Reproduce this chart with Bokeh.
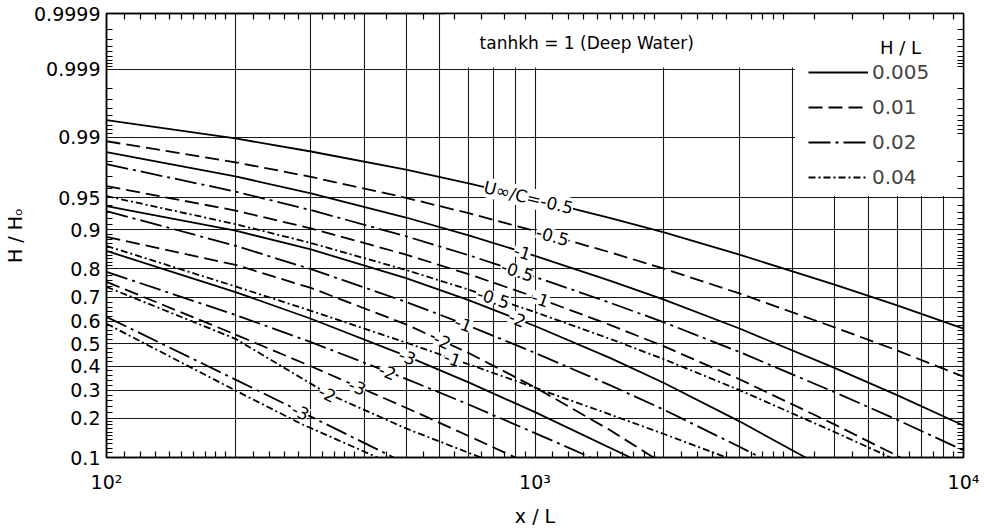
from statistics import NormalDist

from bokeh.embed import file_html
from bokeh.models import (BoxAnnotation, FixedTicker, Label, Legend, LegendItem,
                          LinearAxis, LogAxis, Range1d)
from bokeh.plotting import figure
from bokeh.resources import INLINE

# ---------------------------------------------------------------------------
# Wave height decay in an opposing current, deep water (tanh kh = 1)
# x/L on a log axis, H/Ho on a normal-probability axis
# ---------------------------------------------------------------------------

x_tick_values = [100, 1000, 10000]
x_tick_labels = ["10²", "10³", "10⁴"]
y_tick_values = [0.1, 0.2, 0.3, 0.4, 0.5, 0.6, 0.7, 0.8, 0.9, 0.95, 0.99, 0.999, 0.9999]
y_tick_labels = ["0.1", "0.2", "0.3", "0.4", "0.5", "0.6", "0.7", "0.8", "0.9",
                 "0.95", "0.99", "0.999", "0.9999"]

steepness = ["0.005", "0.01", "0.02", "0.04"]          # H/L
current_ratio = ["-0.5", "-1", "-2", "-3"]             # U∞/C

# H/L = 0.005
x_005_a = [100, 200, 300, 500, 700, 1000, 1500, 2000, 3000, 5000, 7000, 10000]
h_005_a = [0.9941, 0.9896, 0.9848, 0.9750, 0.9645, 0.9484, 0.9215, 0.8949, 0.8423,
           0.7470, 0.6668, 0.5671]                                   # U/C = -0.5
x_005_b = [100, 200, 300, 500, 700, 1000, 1500, 2000, 3000, 5000, 7000, 10000]
h_005_b = [0.9845, 0.9702, 0.9549, 0.9224, 0.8888, 0.8387, 0.7605, 0.6900, 0.5679,
           0.3928, 0.2814, 0.1785]                                   # U/C = -1
x_005_c = [100, 200, 300, 500, 700, 1000, 1500, 2000, 3000, 4280]
h_005_c = [0.9395, 0.8985, 0.8559, 0.7698, 0.6883, 0.5789, 0.4353, 0.3293, 0.1910,
           0.100]                                                    # U/C = -2
x_005_d = [100, 200, 300, 500, 700, 1000, 1670]
h_005_d = [0.8520, 0.7197, 0.6106, 0.4455, 0.3318, 0.2204, 0.100]   # U/C = -3

# H/L = 0.01
x_01_a = [100, 200, 300, 500, 700, 1000, 1500, 2000, 3000, 5000, 7000, 10000]
h_01_a = [0.9887, 0.9795, 0.9699, 0.9498, 0.9292, 0.8979, 0.8480, 0.8009, 0.7143,
          0.5734, 0.4697, 0.3553]
x_01_b = [100, 200, 300, 500, 700, 1000, 1500, 2000, 3000, 5000, 7130]
h_01_b = [0.9621, 0.9331, 0.9030, 0.8423, 0.7832, 0.7005, 0.5832, 0.4880, 0.3446,
          0.1817, 0.100]
x_01_c = [100, 200, 300, 500, 700, 1000, 1500, 1890]
h_01_c = [0.8853, 0.8127, 0.7350, 0.5863, 0.4584, 0.3117, 0.1645, 0.100]
x_01_d = [100, 200, 300, 500, 700, 900]
h_01_d = [0.7571, 0.5411, 0.3997, 0.2354, 0.1494, 0.100]

# H/L = 0.02
x_02_a = [100, 200, 300, 500, 700, 1000, 1500, 2000, 3000, 5000, 7000, 10000]
h_02_a = [0.9784, 0.9567, 0.9338, 0.8869, 0.8406, 0.7742, 0.6772, 0.5950, 0.4629,
          0.2925, 0.1960, 0.1147]
x_02_b = [100, 200, 300, 500, 700, 1000, 1500, 2000, 3000, 3360]
h_02_b = [0.9324, 0.8650, 0.7995, 0.6812, 0.5801, 0.4590, 0.3193, 0.2285, 0.1229,
          0.100]
x_02_c = [100, 200, 300, 500, 700, 1000, 1350]
h_02_c = [0.7907, 0.6269, 0.5072, 0.3461, 0.2469, 0.1570, 0.100]
x_02_d = [100, 200, 284, 468]
h_02_d = [0.619, 0.343, 0.222, 0.100]

# H/L = 0.04
x_04_a = [100, 200, 300, 500, 700, 1000, 1500, 2000, 3000, 5000, 6760]
h_04_a = [0.9518, 0.9110, 0.8716, 0.7968, 0.7287, 0.6391, 0.5211, 0.4305, 0.3007,
          0.1601, 0.100]
x_04_b = [100, 200, 300, 500, 700, 1000, 1500, 2000, 2800]
h_04_b = [0.8645, 0.7405, 0.6446, 0.5049, 0.4085, 0.3101, 0.2122, 0.1546, 0.100]
x_04_c = [100, 200, 328, 500, 747]
h_04_c = [0.739, 0.522, 0.287, 0.170, 0.100]
x_04_d = [100, 200, 284, 429]
h_04_d = [0.589, 0.299, 0.184, 0.100]

curves = {
    "0.005": [(x_005_a, h_005_a), (x_005_b, h_005_b), (x_005_c, h_005_c), (x_005_d, h_005_d)],
    "0.01": [(x_01_a, h_01_a), (x_01_b, h_01_b), (x_01_c, h_01_c), (x_01_d, h_01_d)],
    "0.02": [(x_02_a, h_02_a), (x_02_b, h_02_b), (x_02_c, h_02_c), (x_02_d, h_02_d)],
    "0.04": [(x_04_a, h_04_a), (x_04_b, h_04_b), (x_04_c, h_04_c), (x_04_d, h_04_d)],
}

# curve labels: text, x/L, H/Ho, rotation (rad)
curve_labels = [
    ("U∞/C=-0.5", 966, 0.950, -0.24),
    ("-0.5", 1099, 0.8882, -0.27),
    ("-1", 935, 0.849, -0.30),
    ("-0.5", 910, 0.794, -0.32),
    ("-1", 1030, 0.6935, -0.34),
    ("-0.5", 800, 0.6974, -0.32),
    ("-2", 910, 0.6106, -0.38),
    ("-1", 681, 0.589, -0.37),
    ("-2", 608, 0.5135, -0.43),
    ("-3", 504, 0.442, -0.39),
    ("-1", 642, 0.433, -0.33),
    ("-2", 453, 0.3765, -0.38),
    ("-3", 385, 0.3145, -0.41),
    ("-2", 328, 0.287, -0.45),
    ("-3", 284, 0.2224, -0.45),
]

dash_styles = {"0.005": "solid", "0.01": "14 6", "0.02": "22 5 3 5", "0.04": "7 3 2 3"}

FONT = "DejaVu Sans"
_nd = NormalDist()


def probit(v):
    return _nd.inv_cdf(v)


p = figure(width=984, height=529, x_axis_type="log",
           x_range=Range1d(100, 10000),
           y_range=Range1d(probit(0.1), probit(0.9999)),
           output_backend="svg", toolbar_location=None,
           min_border_left=106, min_border_right=21,
           min_border_top=13, min_border_bottom=70)
p.outline_line_color = "black"
p.outline_line_width = 1.5
p.background_fill_color = "white"
p.border_fill_color = "white"

# ticks ----------------------------------------------------------------------
x_minor = ([100 + 10 * i for i in range(1, 10)] + [200 + 20 * i for i in range(1, 10)] +
           [400 + 50 * i for i in range(1, 12)])
x_minor = [v for v in x_minor if v not in (200, 300, 400, 500, 600, 700, 800, 900, 1000)]
x_minor = x_minor + [10 * v for v in x_minor]

y_minor_p = ([round(0.1 + 0.01 * i, 3) for i in range(1, 10)] +
             [round(0.2 + 0.02 * i, 3) for i in range(1, 30)] +
             [round(0.8 + 0.01 * i, 3) for i in range(1, 15)] +
             [0.96, 0.97, 0.98] +
             [round(0.99 + 0.001 * i, 4) for i in range(1, 9)] +
             [round(0.999 + 0.0001 * i, 5) for i in range(1, 9)])
y_minor_p = [v for v in y_minor_p if v not in y_tick_values]

x_ticker = FixedTicker(ticks=x_tick_values, minor_ticks=x_minor)
y_ticker = FixedTicker(ticks=[probit(v) for v in y_tick_values],
                       minor_ticks=[probit(v) for v in y_minor_p])


def style_axis(ax):
    ax.axis_line_color = "black"
    ax.axis_line_width = 1.5
    ax.major_tick_in = 0
    ax.major_tick_out = 0
    ax.minor_tick_in = 6
    ax.minor_tick_out = 0
    ax.minor_tick_line_color = "black"
    ax.minor_tick_line_width = 1.2
    ax.major_label_text_font = FONT
    ax.major_label_text_color = "black"
    ax.axis_label_text_font = FONT
    ax.axis_label_text_font_style = "normal"
    ax.axis_label_text_color = "black"


def hide_tick_labels(ax):
    ax.major_label_text_font_size = "1px"
    ax.major_label_text_alpha = 0
    ax.major_label_standoff = 0


xb = p.xaxis[0]
xb.ticker = x_ticker
style_axis(xb)
xb.major_label_overrides = {v: t for v, t in zip(x_tick_values, x_tick_labels)}
xb.major_label_text_font_size = "19px"
xb.major_label_standoff = 13
xb.axis_label = "x / L"
xb.axis_label_text_font_size = "19px"
xb.axis_label_standoff = 9

yl = p.yaxis[0]
yl.ticker = y_ticker
style_axis(yl)
yl.major_label_overrides = {probit(v): t for v, t in zip(y_tick_values, y_tick_labels)}
yl.major_label_text_font_size = "19px"
yl.major_label_standoff = 6
yl.axis_label = "H / Hₒ"
yl.axis_label_text_font_size = "19px"
yl.axis_label_standoff = 5

xt = LogAxis(ticker=FixedTicker(ticks=x_tick_values, minor_ticks=x_minor))
style_axis(xt)
hide_tick_labels(xt)
p.add_layout(xt, "above")

yr = LinearAxis(ticker=FixedTicker(ticks=[probit(v) for v in y_tick_values],
                                   minor_ticks=[probit(v) for v in y_minor_p]))
style_axis(yr)
hide_tick_labels(yr)
p.add_layout(yr, "right")

# grid -----------------------------------------------------------------------
p.xgrid.ticker = FixedTicker(ticks=[200, 300, 400, 500, 600, 700, 800, 900, 1000,
                                    2000, 3000, 4000, 5000, 6000, 7000, 8000, 9000])
p.ygrid.ticker = FixedTicker(ticks=[probit(v) for v in y_tick_values[1:-1]])
for g in (p.xgrid, p.ygrid):
    g.grid_line_color = "black"
    g.grid_line_width = 1.1
    g.grid_line_alpha = 0.9

# blank panels behind the heading and the key
p.add_layout(BoxAnnotation(left=618, right=10000, bottom=probit(0.999) + 0.02, top=probit(0.9999),
                           fill_color="white", fill_alpha=1, line_alpha=0, level="underlay"))
p.add_layout(BoxAnnotation(left=4040, right=10000, bottom=probit(0.95) + 0.02, top=probit(0.9999),
                           fill_color="white", fill_alpha=1, line_alpha=0, level="underlay"))

# curves ---------------------------------------------------------------------
legend_items = []
for hl in steepness:
    first = None
    for xs, hs in curves[hl]:
        r = p.line(xs, [probit(v) for v in hs], line_color="black", line_width=1.8,
                   line_dash=dash_styles[hl])
        if first is None:
            first = r
    legend_items.append(LegendItem(label=hl, renderers=[first]))

for txt, xv, hv, ang in curve_labels:
    p.add_layout(Label(x=xv, y=probit(hv), text=txt, angle=ang,
                       text_align="center", text_baseline="middle",
                       text_font=FONT, text_font_size="17px", text_color="black",
                       background_fill_color="white", background_fill_alpha=1))

p.add_layout(Label(x=1320, y=probit(0.99964), text="tanhkh = 1 (Deep Water)",
                   text_align="center", text_baseline="middle",
                   text_font=FONT, text_font_size="17px", text_color="black"))
p.add_layout(Label(x=7130, y=probit(0.99958), text="H / L",
                   text_align="center", text_baseline="middle",
                   text_font=FONT, text_font_size="18px", text_color="black"))

legend = Legend(items=legend_items, location=(702, 268),
                label_text_font=FONT, label_text_font_size="20px",
                glyph_width=60, glyph_height=20, label_height=20, spacing=11,
                padding=0, margin=0, label_standoff=4,
                border_line_alpha=0, background_fill_alpha=0)
p.add_layout(legend)

open("out.html", "w").write(file_html(p, INLINE))
